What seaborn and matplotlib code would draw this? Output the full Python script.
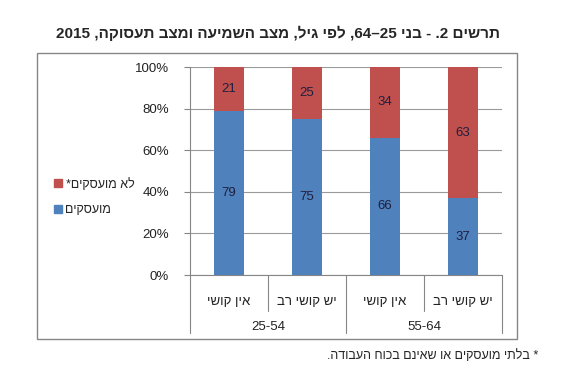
import re
import pandas as pd
import matplotlib
matplotlib.use('Agg')
import matplotlib.pyplot as plt
import seaborn as sns
from matplotlib.patches import Rectangle, Patch

# data
hearing = ['אין קושי', 'יש קושי רב', 'אין קושי', 'יש קושי רב']
age_groups = ['25-54', '55-64']
employed = [79, 75, 66, 37]
not_employed = [21, 25, 34, 63]
series_names = ['לא מועסקים*', 'מועסקים']
title = 'תרשים 2. - בני 25–64, לפי גיל, מצב השמיעה ומצב תעסוקה, 2015'
note = '* בלתי מועסקים או שאינם בכוח העבודה.'

BLUE = '#4F81BD'
RED = '#C0504D'
GRAY = '#868686'


def visual(s):
    # matplotlib has no bidi: flip the hebrew, keep digit runs LTR
    r = s[::-1]
    return re.sub(r'\d+', lambda m: m.group(0)[::-1], r)


sns.set_style('white')
plt.rcParams['font.family'] = ['Liberation Sans', 'DejaVu Sans']

df = pd.DataFrame({
    'key': ['b%d' % i for i in range(len(employed))],
    'employed': employed,
    'not_employed': not_employed,
})
df['total'] = df['employed'] + df['not_employed']

W, H = 561, 370
fig = plt.figure(figsize=(W / 100, H / 100), dpi=100)

# outer chart frame
fig.patches.append(Rectangle((37 / W, 1 - 339 / H), 480 / W, 286 / H,
                             transform=fig.transFigure, fill=False,
                             edgecolor=GRAY, linewidth=1))

ax = fig.add_axes([190 / W, 1 - 275 / H, 312 / W, 208 / H])
sns.barplot(data=df, x='key', y='total', color=RED, saturation=1,
            width=0.38, linewidth=0, ax=ax, zorder=2)
sns.barplot(data=df, x='key', y='employed', color=BLUE, saturation=1,
            width=0.38, linewidth=0, ax=ax, zorder=3)

for i, (e, n) in enumerate(zip(employed, not_employed)):
    ax.text(i, e / 2, str(e), ha='center', va='center', fontsize=9.5,
            color='#1F1F3F', zorder=4)
    ax.text(i, e + n / 2, str(n), ha='center', va='center', fontsize=9.5,
            color='#1F1F3F', zorder=4)

ax.set_xlim(-0.5, 3.5)
ax.set_ylim(0, 100)
ax.set_yticks(range(0, 101, 20))
ax.set_yticklabels(['%d%%' % v for v in range(0, 101, 20)], fontsize=9.5,
                   color='#222222')
ax.yaxis.grid(True, color='#9A9A9A', linewidth=0.8, zorder=0)
ax.set_axisbelow(True)
ax.tick_params(axis='y', length=4, color=GRAY, width=0.8, pad=11, left=True)
ax.set_xticks([])
ax.set_xlabel('')
ax.set_ylabel('')
for side in ['top', 'right']:
    ax.spines[side].set_visible(False)
ax.spines['left'].set_color(GRAY)
ax.spines['bottom'].set_color(GRAY)
ax.spines['left'].set_linewidth(0.8)
ax.spines['bottom'].set_linewidth(0.8)

# two level category axis
tr = ax.get_xaxis_transform()
row1 = -27 / 208
row2 = -52 / 208
for i, lab in enumerate(hearing):
    ax.text(i, row1, visual(lab), transform=tr, ha='center', va='center',
            fontsize=9.5, color='#222222')
for g, lab in enumerate(age_groups):
    ax.text(2 * g + 0.5, row2, lab, transform=tr, ha='center', va='center',
            fontsize=9.5, color='#222222')
for x in [-0.5, 1.5, 3.5]:
    ax.plot([x, x], [0, -58 / 208], transform=tr, color=GRAY, lw=0.8,
            clip_on=False)
for x in [0.5, 2.5]:
    ax.plot([x, x], [0, -36 / 208], transform=tr, color=GRAY, lw=0.8,
            clip_on=False)

handles = [Patch(color=RED), Patch(color=BLUE)]
fig.legend(handles, [visual(s) for s in series_names], loc='center left',
           bbox_to_anchor=(43 / W, 1 - 197 / H), frameon=False, fontsize=9,
           handlelength=0.6, handleheight=0.6, handletextpad=0.3,
           labelspacing=1.1)

fig.text(278 / W, 1 - 33 / H, visual(title), ha='center', va='center',
         fontsize=11, fontweight='bold')
fig.text(538 / W, 1 - 356 / H, visual(note), ha='right', va='center',
         fontsize=9)

fig.savefig('out.png', dpi=100, facecolor='white')
